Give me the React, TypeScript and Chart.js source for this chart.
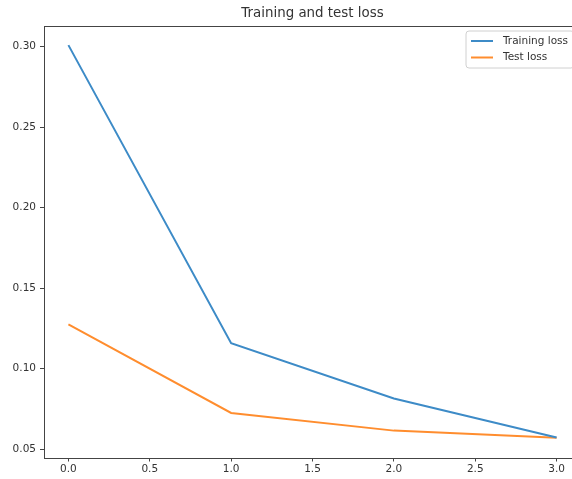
import React, { useEffect, useRef } from "react";
import { Chart, registerables } from "chart.js";

Chart.register(...registerables);

const epochs = [0, 1, 2, 3];
const trainingLoss = [0.301, 0.1158, 0.0815, 0.0572];
const testLoss = [0.1275, 0.0725, 0.0615, 0.057];
const xTicks = [0, 0.5, 1.0, 1.5, 2.0, 2.5, 3.0];
const yTicks = [0.05, 0.1, 0.15, 0.2, 0.25, 0.3];
const seriesLabels = ["Training loss", "Test loss"];
const titleText = "Training and test loss";

const FONT = "'DejaVu Sans', sans-serif";

const framePlugin = {
  id: "frame",
  afterDraw(chart: any) {
    const { ctx, chartArea } = chart;
    const { left, right, top, bottom } = chartArea;
    ctx.save();
    // title centred over the plot area
    ctx.fillStyle = "#333";
    ctx.font = `13.4px ${FONT}`;
    ctx.textAlign = "center";
    ctx.textBaseline = "middle";
    ctx.fillText(chart.options.plugins.frame.title, (left + right) / 2, 14);
    // axes frame
    ctx.strokeStyle = "#444";
    ctx.lineWidth = 1;
    ctx.strokeRect(Math.round(left) + 0.5, Math.round(top) + 0.5, Math.round(right - left), Math.round(bottom - top));
    // legend
    const boxRight = right - 7;
    const boxLeft = boxRight - 108;
    const boxTop = top + 5.5;
    const boxH = 37;
    ctx.fillStyle = "rgba(255,255,255,0.8)";
    ctx.strokeStyle = "#d0d0d0";
    ctx.beginPath();
    const r = 3;
    ctx.moveTo(boxLeft + r, boxTop);
    ctx.lineTo(boxRight - r, boxTop);
    ctx.quadraticCurveTo(boxRight, boxTop, boxRight, boxTop + r);
    ctx.lineTo(boxRight, boxTop + boxH - r);
    ctx.quadraticCurveTo(boxRight, boxTop + boxH, boxRight - r, boxTop + boxH);
    ctx.lineTo(boxLeft + r, boxTop + boxH);
    ctx.quadraticCurveTo(boxLeft, boxTop + boxH, boxLeft, boxTop + boxH - r);
    ctx.lineTo(boxLeft, boxTop + r);
    ctx.quadraticCurveTo(boxLeft, boxTop, boxLeft + r, boxTop);
    ctx.closePath();
    ctx.fill();
    ctx.stroke();
    chart.data.datasets.forEach((ds: any, i: number) => {
      const y = boxTop + 10 + i * 16.5;
      ctx.strokeStyle = ds.borderColor;
      ctx.lineWidth = 2;
      ctx.beginPath();
      ctx.moveTo(boxLeft + 5, y);
      ctx.lineTo(boxLeft + 27, y);
      ctx.stroke();
      ctx.fillStyle = "#333";
      ctx.font = `10.5px ${FONT}`;
      ctx.textBaseline = "middle";
      ctx.textAlign = "left";
      ctx.fillText(ds.label, boxLeft + 37, y);
    });
    ctx.restore();
  },
};

export default function App() {
  const ref = useRef<HTMLCanvasElement>(null);
  useEffect(() => {
    if (!ref.current) return;
    const chart = new Chart(ref.current, {
      type: "line",
      data: {
        datasets: [
          {
            label: seriesLabels[0],
            data: epochs.map((x, i) => ({ x, y: trainingLoss[i] })),
            borderColor: "#3d8bc7",
            borderWidth: 2,
            pointRadius: 0,
            tension: 0,
          },
          {
            label: seriesLabels[1],
            data: epochs.map((x, i) => ({ x, y: testLoss[i] })),
            borderColor: "#ff8d2e",
            borderWidth: 2,
            pointRadius: 0,
            tension: 0,
          },
        ],
      },
      options: {
        animation: false,
        responsive: false,
        devicePixelRatio: 1,
        layout: { padding: { top: 25.5, right: 19, left: 0, bottom: 0 } },
        plugins: {
          legend: { display: false },
          tooltip: { enabled: false },
          title: { display: false },
          frame: { title: titleText },
        },
        scales: {
          x: {
            type: "linear",
            min: -0.15,
            max: 3.15,
            afterBuildTicks: (s: any) => {
              s.ticks = xTicks.map((v) => ({ value: v }));
            },
            afterFit: (s: any) => {
              s.height = 21.5;
            },
            grid: { drawOnChartArea: false, drawTicks: true, tickLength: 4, color: "#444" },
            border: { display: false },
            ticks: {
              color: "#333",
              font: { family: FONT, size: 10.5 },
              padding: 1,
              maxRotation: 0,
              callback: (v: any) => Number(v).toFixed(1),
            },
          },
          y: {
            type: "linear",
            min: 0.0448,
            max: 0.3132,
            afterBuildTicks: (s: any) => {
              s.ticks = yTicks.map((v) => ({ value: v }));
            },
            afterFit: (s: any) => {
              s.width = 44;
            },
            grid: { drawOnChartArea: false, drawTicks: true, tickLength: 4, color: "#444" },
            border: { display: false },
            ticks: {
              color: "#333",
              font: { family: FONT, size: 10.5 },
              padding: 4,
              callback: (v: any) => Number(v).toFixed(2),
            },
          },
        },
      },
      plugins: [framePlugin],
    } as any);
    return () => chart.destroy();
  }, []);
  return (
    <div style={{ position: "fixed", left: 0, top: 0, width: 600, height: 479, background: "#fff" }}>
      <canvas ref={ref} width={600} height={479} style={{ display: "block" }} />
    </div>
  );
}
